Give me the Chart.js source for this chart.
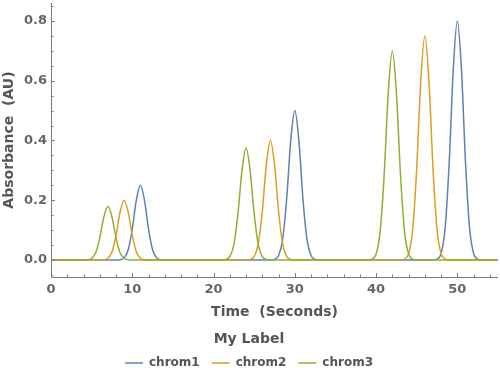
<!DOCTYPE html>
<html>
<head>
<meta charset="utf-8">
<script src="https://cdn.jsdelivr.net/npm/chart.js@4/dist/chart.umd.min.js"></script>
<style>
    html, body { margin: 0; padding: 0; background: #fff; }
    #wrap { width: 500px; height: 376px; }
</style>
</head>
<body>
<div id="wrap"><canvas id="chromChart"></canvas></div>
<script>
const SERIES_LABELS = ['chrom1', 'chrom2', 'chrom3'];
const SERIES_COLORS = ['#5e81b5', '#e19c24', '#8fb032'];

// time (s) and absorbance (AU)
const CHROM1_TIME = [0,
    8, 8.5, 9, 9.5, 10, 10.5, 11, 11.5, 12, 12.5, 13, 13.5, 14,
    27, 27.5, 28, 28.5, 29, 29.5, 30, 30.5, 31, 31.5, 32, 32.5, 33,
    47, 47.5, 48, 48.5, 49, 49.5, 50, 50.5, 51, 51.5, 52, 52.5, 53,
    55];
const CHROM1_ABS = [0,
    0, 0.001, 0.007, 0.034, 0.103, 0.2, 0.25, 0.2, 0.103, 0.034, 0.007, 0.001, 0,
    0, 0.002, 0.014, 0.068, 0.205, 0.4, 0.5, 0.4, 0.205, 0.068, 0.014, 0.002, 0,
    0, 0.003, 0.022, 0.108, 0.328, 0.64, 0.8, 0.64, 0.328, 0.108, 0.022, 0.003, 0,
    0];

const CHROM2_TIME = [0,
    6, 6.5, 7, 7.5, 8, 8.5, 9, 9.5, 10, 10.5, 11, 11.5, 12,
    24, 24.5, 25, 25.5, 26, 26.5, 27, 27.5, 28, 28.5, 29, 29.5, 30,
    43, 43.5, 44, 44.5, 45, 45.5, 46, 46.5, 47, 47.5, 48, 48.5, 49,
    55];
const CHROM2_ABS = [0,
    0, 0.001, 0.006, 0.027, 0.082, 0.16, 0.2, 0.16, 0.082, 0.027, 0.006, 0.001, 0,
    0, 0.002, 0.011, 0.054, 0.164, 0.32, 0.4, 0.32, 0.164, 0.054, 0.011, 0.002, 0,
    0, 0.003, 0.021, 0.101, 0.308, 0.6, 0.75, 0.6, 0.308, 0.101, 0.021, 0.003, 0,
    0];

const CHROM3_TIME = [0,
    4, 4.5, 5, 5.5, 6, 6.5, 7, 7.5, 8, 8.5, 9, 9.5, 10,
    21, 21.5, 22, 22.5, 23, 23.5, 24, 24.5, 25, 25.5, 26, 26.5, 27,
    39, 39.5, 40, 40.5, 41, 41.5, 42, 42.5, 43, 43.5, 44, 44.5, 45,
    55];
const CHROM3_ABS = [0,
    0, 0.001, 0.005, 0.024, 0.074, 0.144, 0.18, 0.144, 0.074, 0.024, 0.005, 0.001, 0,
    0, 0.002, 0.011, 0.051, 0.154, 0.3, 0.375, 0.3, 0.154, 0.051, 0.011, 0.002, 0,
    0, 0.003, 0.02, 0.095, 0.287, 0.56, 0.7, 0.56, 0.287, 0.095, 0.02, 0.003, 0,
    0];

const X_MIN = 0, X_MAX = 55, X_STEP = 10, X_MINOR = 2;
const Y_MIN = -0.057, Y_MAX = 0.86, Y_STEP = 0.2, Y_MINOR = 0.05;

const FONT = 'DejaVu Sans';
const AXIS_COLOR = '#7a7a7a';

/**
 * Zips time / absorbance arrays into {x, y} points
 */
function toPoints(aTime, aAbs) {
    return aTime.map(function (t, i) { return { x: t, y: aAbs[i] }; });
}

/**
 * Mathematica style axes: plain lines with ticks pointing into the plot
 */
const innerAxes = {
    id: 'innerAxes',
    afterDatasetsDraw: function (chart) {
        const ctx = chart.ctx;
        const area = chart.chartArea;
        const xs = chart.scales.x;
        const ys = chart.scales.y;
        ctx.save();
        ctx.strokeStyle = AXIS_COLOR;
        ctx.lineWidth = 1;
        ctx.beginPath();
        ctx.moveTo(area.left + 0.5, area.top);
        ctx.lineTo(area.left + 0.5, area.bottom + 0.5);
        ctx.lineTo(area.right, area.bottom + 0.5);
        ctx.stroke();

        ctx.beginPath();
        for (let v = X_MIN + X_MINOR; v <= X_MAX; v += X_MINOR) {
            const px = Math.round(xs.getPixelForValue(v)) + 0.5;
            const len = (Math.round(v) % X_STEP === 0) ? 4 : 2.5;
            ctx.moveTo(px, area.bottom);
            ctx.lineTo(px, area.bottom - len);
        }
        for (let k = -1; k * Y_MINOR <= Y_MAX; k++) {
            const v = k * Y_MINOR;
            const py = Math.round(ys.getPixelForValue(v)) + 0.5;
            const len = (k % 4 === 0) ? 4 : 2.5;
            ctx.moveTo(area.left, py);
            ctx.lineTo(area.left + len, py);
        }
        ctx.stroke();
        ctx.restore();
    }
};

const oData = {
    datasets: [
        [CHROM1_TIME, CHROM1_ABS],
        [CHROM2_TIME, CHROM2_ABS],
        [CHROM3_TIME, CHROM3_ABS]
    ].map(function (aPair, i) {
        return {
            label: SERIES_LABELS[i],
            data: toPoints(aPair[0], aPair[1]),
            borderColor: SERIES_COLORS[i],
            backgroundColor: SERIES_COLORS[i],
            borderWidth: 1.5,
            pointRadius: 0,
            pointStyle: 'line',
            cubicInterpolationMode: 'monotone',
            order: 2 - i
        };
    })
};

new Chart(document.getElementById('chromChart'), {
    type: 'line',
    data: oData,
    options: {
        responsive: true,
        maintainAspectRatio: false,
        animation: false,
        layout: { padding: { top: 3, right: 2, bottom: -3, left: 0 } },
        plugins: {
            tooltip: { enabled: false },
            legend: {
                position: 'bottom',
                title: {
                    display: true,
                    text: 'My Label',
                    color: '#555',
                    font: { family: FONT, size: 14, weight: 'bold', lineHeight: 1 },
                    padding: { top: 4, bottom: -1 }
                },
                labels: {
                    usePointStyle: true,
                    pointStyleWidth: 18,
                    boxHeight: 12,
                    padding: 12,
                    color: '#555',
                    font: { family: FONT, size: 12, weight: 'bold' },
                    sort: function (a, b) { return a.datasetIndex - b.datasetIndex; }
                }
            }
        },
        scales: {
            x: {
                type: 'linear',
                min: X_MIN,
                max: X_MAX,
                grid: { display: false, drawTicks: false },
                border: { display: false },
                ticks: {
                    stepSize: X_STEP,
                    includeBounds: false,
                    padding: 5,
                    maxRotation: 0,
                    color: '#666',
                    font: { family: FONT, size: 13, weight: 'bold' }
                },
                title: {
                    display: true,
                    text: 'Time  (Seconds)',
                    color: '#555',
                    font: { family: FONT, size: 14, weight: 'bold' },
                    padding: { top: 0, bottom: 7 }
                },
                afterFit: function (scale) {
                    scale.height = 51;
                    scale.paddingLeft = 0;
                    scale.paddingRight = 0;
                }
            },
            y: {
                type: 'linear',
                min: Y_MIN,
                max: Y_MAX,
                grid: { display: false, drawTicks: false },
                border: { display: false },
                ticks: {
                    stepSize: Y_STEP,
                    includeBounds: false,
                    padding: 4,
                    color: '#666',
                    font: { family: FONT, size: 13, weight: 'bold' },
                    callback: function (v) { return Number(v).toFixed(1); }
                },
                title: {
                    display: true,
                    text: 'Absorbance  (AU)',
                    color: '#555',
                    font: { family: FONT, size: 14, weight: 'bold' },
                    padding: { top: 1, bottom: 0 }
                },
                afterFit: function (scale) {
                    scale.width = 51;
                    scale.paddingTop = 0;
                    scale.paddingBottom = 0;
                }
            }
        }
    },
    plugins: [innerAxes]
});
</script>
</body>
</html>
